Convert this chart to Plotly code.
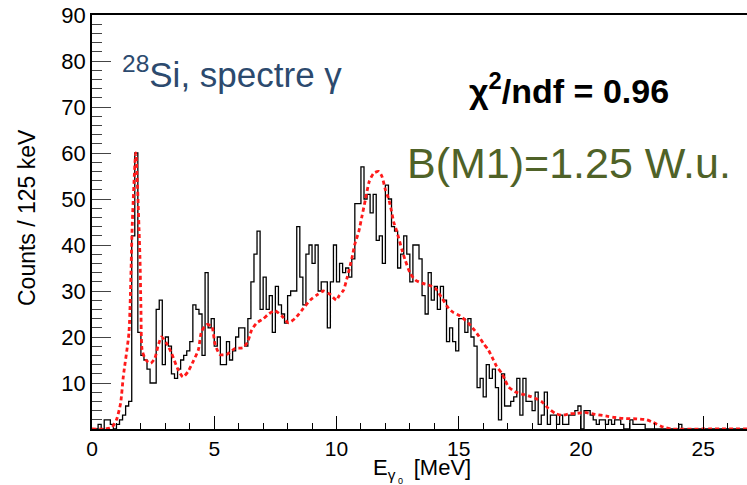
import plotly.graph_objects as go

# ---------------- data ----------------
bin_width = 0.125  # MeV (125 keV)
counts = [
    0, 0, 1, 0, 2, 2, 1, 0, 1, 2, 3, 5, 6, 42, 60, 21, 16, 15, 13, 10,
    10, 26, 28, 14, 20, 18, 12, 11, 13, 15, 16, 17, 19, 27, 26, 25, 16, 34, 22, 24,
    18, 20, 14, 14, 19, 15, 17, 20, 22, 22, 18, 24, 32, 38, 43, 26, 33, 26, 29, 21,
    31, 27, 25, 23, 29, 30, 30, 44, 33, 27, 38, 40, 36, 40, 30, 32, 32, 22, 32, 40,
    32, 36, 34, 35, 33, 37, 49, 49, 57, 50, 51, 47, 51, 41, 42, 36, 53, 50, 44, 43,
    35, 38, 42, 38, 32, 40, 40, 37, 29, 25, 34, 28, 31, 26, 31, 28, 19, 22, 19, 17,
    24, 24, 21, 24, 20, 18, 9, 11, 7, 14, 11, 13, 9, 2, 12, 5, 5, 6, 7, 11,
    3, 11, 6, 6, 4, 8, 1, 3, 8, 1, 3, 3, 1, 3, 1, 1, 3, 3, 4, 5,
    0, 4, 4, 3, 2, 1, 2, 2, 1, 2, 1, 2, 2, 1, 0, 0, 2, 1, 1, 1,
    1, 0, 0, 0, 0, 0, 0, 0, 0, 0, 0, 0, 1, 0, 0, 0, 0, 0, 0, 0,
    0, 0, 0, 0, 0, 0, 0, 0, 0, 0, 0, 0, 0, 0, 0,
]

fit_E = [0.0, 0.5, 0.8, 1.0, 1.17, 1.28, 1.51, 1.65, 1.79, 1.96, 2.0, 2.05, 2.2, 2.4,
         2.57, 2.7, 2.84, 3.04, 3.25, 3.52, 3.72, 3.93, 4.14, 4.35, 4.48, 4.69, 4.9,
         5.03, 5.23, 5.51, 5.85, 6.19, 6.37, 6.53, 6.73, 7.01, 7.25, 7.49, 7.76, 8.03,
         8.30, 8.64, 8.92, 9.19, 9.46, 9.73, 10.0, 10.09, 10.29, 10.43, 10.63, 10.74,
         10.91, 11.04, 11.18, 11.34, 11.52, 11.72, 11.86, 12.0, 12.13, 12.24, 12.34,
         12.47, 12.68, 12.81, 13.02, 13.22, 13.5, 13.77, 14.04, 14.32, 14.59, 14.79,
         15.05, 15.4, 15.74, 16.01, 16.21, 16.42, 16.55, 16.76, 16.89, 17.03, 17.3,
         17.58, 17.85, 18.12, 18.4, 18.66, 18.94, 19.21, 19.55, 19.82, 20.16, 20.57,
         21.05, 21.39, 21.73, 22.28, 22.69, 22.96, 23.37, 23.71, 25.0, 26.8]
fit_val = [0.0, 0.0, 0.3, 2.0, 5.6, 11.4, 20.9, 45.0, 60.0, 37.5, 26.7, 17.2, 15.0, 14.3,
           15.4, 18.0, 20.0, 18.7, 16.5, 12.9, 11.3, 12.5, 14.7, 17.2, 21.2, 22.7, 22.3,
           18.5, 16.2, 16.2, 17.5, 17.7, 19.0, 21.5, 23.0, 24.0, 25.1, 25.7, 24.6, 23.1,
           24.0, 26.2, 28.0, 29.1, 30.0, 29.3, 28.0, 28.8, 30.2, 32.8, 37.1, 40.0,
           42.9, 46.2, 49.8, 53.8, 55.6, 56.0, 54.9, 52.0, 50.1, 47.6, 45.0,
           42.9, 38.9, 36.7, 33.8, 32.4, 31.7, 31.3, 30.6, 28.4, 26.2, 25.3,
           24.6, 23.0, 20.8, 18.6, 17.2, 15.0, 13.6, 12.1, 10.7, 9.2, 8.1,
           7.6, 7.2, 6.7, 5.9, 4.5, 3.4, 3.0, 3.3, 3.4, 3.6, 3.2,
           2.8, 2.5, 2.3, 2.2, 2.0, 1.4, 0.4, 0.0, 0.0, 0.0]

y_ticks = [10, 20, 30, 40, 50, 60, 70, 80, 90]
x_ticks = [0, 5, 10, 15, 20, 25]

# ---------------- figure ----------------
edges = [i * bin_width for i in range(len(counts) + 1)]
hx = [0.0] + edges
hy = [0] + counts + [counts[-1]]

fig = go.Figure()
fig.add_trace(go.Scatter(x=hx, y=hy, mode="lines", line=dict(color="black", width=1.3, shape="hv"),
                         showlegend=False, hoverinfo="skip"))
fig.add_trace(go.Scatter(x=fit_E, y=fit_val, mode="lines",
                         line=dict(color="#ff1a1a", width=2.8, dash="4px,3px", shape="spline", smoothing=0.6),
                         showlegend=False, hoverinfo="skip"))

FONT = "Liberation Sans, Arial, Helvetica"

fig.update_layout(
    width=747, height=485,
    margin=dict(l=92, r=0, t=15, b=56),
    paper_bgcolor="white", plot_bgcolor="white",
    xaxis=dict(range=[0, 26.79], showgrid=False, zeroline=False,
               showline=True, linecolor="black", linewidth=1.5, mirror=True,
               tickmode="array", tickvals=x_ticks, ticks="inside", ticklen=13, tickcolor="black",
               tickfont=dict(family=FONT, size=21, color="black"),
               minor=dict(dtick=1, tick0=0, ticks="inside", ticklen=6, tickcolor="black")),
    yaxis=dict(range=[0, 90], showgrid=False, zeroline=False,
               showline=True, linecolor="black", linewidth=1.5,
               tickmode="array", tickvals=y_ticks, ticks="inside", ticklen=19, tickcolor="#444",
               tickfont=dict(family=FONT, size=22, color="black"),
               minor=dict(dtick=2, tick0=0, ticks="inside", ticklen=10, tickcolor="#444")),
)

# axis titles
fig.add_annotation(x=-0.099, y=0.51, xref="paper", yref="paper", xanchor="center", yanchor="middle",
                   text="Counts / 125 keV", textangle=-90, showarrow=False,
                   font=dict(family=FONT, size=23, color="black"))
fig.add_annotation(x=11.4, y=-0.058, xref="x", yref="paper", xanchor="left", yanchor="top",
                   text="E<sub>γ</sub>   [MeV]", showarrow=False,
                   font=dict(family=FONT, size=22, color="black"))
fig.add_annotation(x=12.62, y=-0.126, xref="x", yref="paper", xanchor="center", yanchor="middle",
                   text="0", showarrow=False,
                   font=dict(family=FONT, size=9, color="black"))

# labels inside the frame
fig.add_annotation(x=1.15, y=77.6, xref="x", yref="y", xanchor="left", yanchor="middle",
                   text="<sup>28</sup>Si, spectre γ", showarrow=False,
                   font=dict(family=FONT, size=35, color="#2c4a6e"))
fig.add_annotation(x=15.34, y=74.1, xref="x", yref="y", xanchor="left", yanchor="middle",
                   text="<b>χ<sup>2</sup>/ndf = 0.96</b>", showarrow=False,
                   font=dict(family=FONT, size=34, color="black"))
fig.add_annotation(x=12.8, y=57.8, xref="x", yref="y", xanchor="left", yanchor="middle",
                   text="B(M1)=1.25 W.u.", showarrow=False,
                   font=dict(family=FONT, size=43, color="#4f6228"))

fig.write_html("out.html")
